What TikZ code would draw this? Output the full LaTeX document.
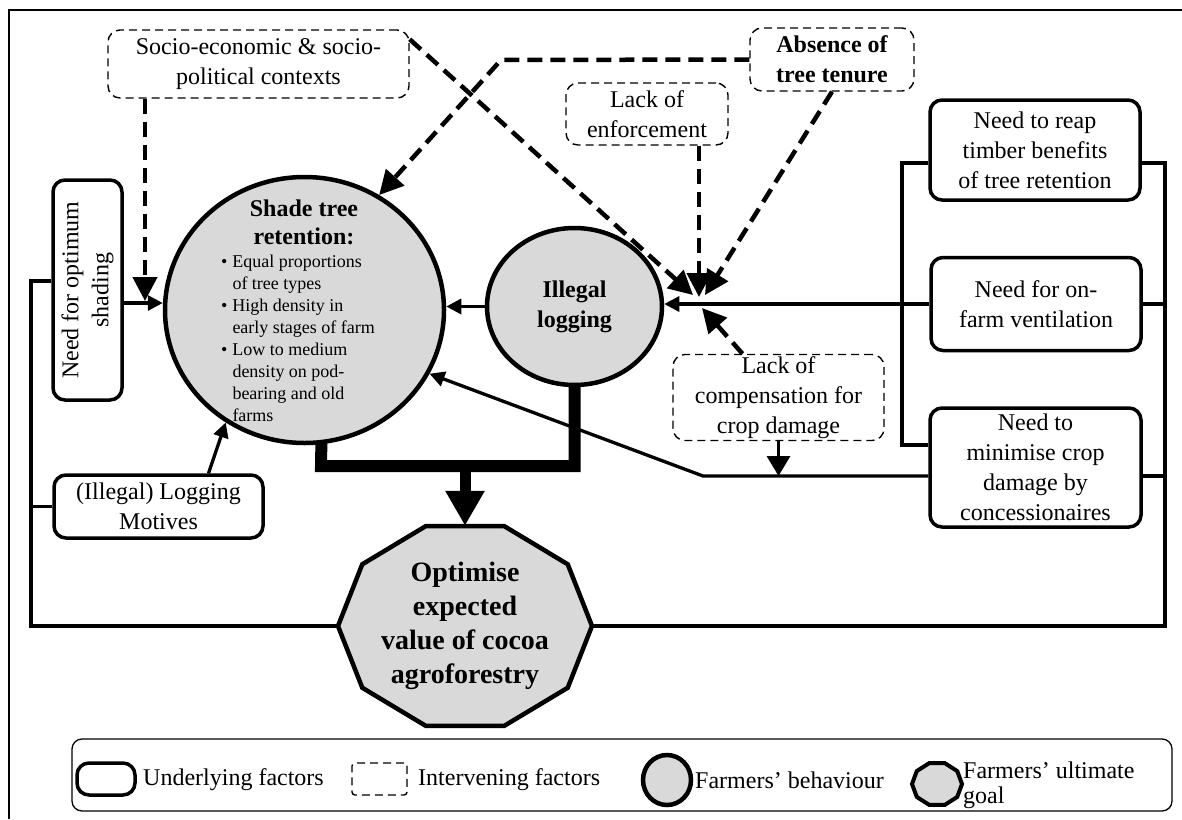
\documentclass[tikz,border=0pt]{standalone}
\usepackage{fontspec}
\setmainfont{Liberation Serif}
\usetikzlibrary{arrows.meta,shapes.geometric,calc}
\pgfdeclarelayer{bg}
\pgfsetlayers{bg,main}
\definecolor{shadegrey}{HTML}{D9D9D9}
\newcommand\bodyfont{\fontsize{24}{30}\selectfont}
\newcommand\listfont{\fontsize{18}{22}\selectfont}
\newcommand\goalfont{\fontsize{28}{34}\selectfont\bfseries}
\tikzset{
  under/.style={draw, rounded corners=12pt, line width=3.5pt, align=center, font=\bodyfont, inner sep=2pt},
  inter/.style={draw, rounded corners=12pt, line width=1.4pt, dash pattern=on 8pt off 5pt, align=center, font=\bodyfont, inner sep=2pt},
  behav/.style={draw, ellipse, fill=shadegrey, line width=4.5pt, inner sep=0pt},
  link/.style={line width=3.3pt},
  arrowlink/.style={link, -{Triangle[length=15pt,width=15pt]}},
  droplink/.style={link, -{Triangle[length=20pt,width=23pt]}},
  dlink/.style={line width=4.5pt, dash pattern=on 15pt off 8pt, -{Triangle[length=24pt,width=24pt]}},
  thickbar/.style={line width=12pt, line join=miter},
  bigarrow/.style={line width=11pt, -{Triangle[length=35pt,width=37pt]}},
  goalshape/.style={draw, fill=shadegrey, line width=4.5pt, line join=miter},
  legtext/.style={anchor=west, inner sep=0pt, font=\bodyfont}
}
\begin{document}
\begin{tikzpicture}[x=1pt, y=-1pt]
\useasboundingbox (0,0) rectangle (1182,819);

% outer frame
\draw[line width=1.8pt] (9,819) -- (9,10) -- (1182,10);

% intervening factors
\node[inter, minimum width=301pt, minimum height=68pt] (socio) at (258.5,64) {Socio-economic \& socio-\\political contexts};
\node[inter, font=\bodyfont\bfseries, minimum width=164pt, minimum height=63pt] (absence) at (832,59.5) {Absence of\\tree tenure};
\node[inter, minimum width=162pt, minimum height=62pt] (enforce) at (647,114) {Lack of\\enforcement};
\node[inter, minimum width=211pt, minimum height=85pt] (comp) at (778.5,397.5) {Lack of\\compensation for\\crop damage};

% underlying factors
\node[under, minimum width=210pt, minimum height=100pt] (reap) at (1035,150) {Need to reap\\timber benefits\\of tree retention};
\node[under, minimum width=210pt, minimum height=93pt] (onfarm) at (1036,304) {Need for on-\\farm ventilation};
\node[under, minimum width=211pt, minimum height=119pt] (minimise) at (1035.5,467.5) {Need to\\minimise crop\\damage by\\concessionaires};
\node[under, rotate=90, minimum width=220pt, minimum height=69pt] (needshade) at (87.5,290) {Need for optimum\\shading};
\node[under, minimum width=209pt, minimum height=63pt] (motives) at (158.5,506.5) {(Illegal) Logging\\Motives};

% farmers' behaviour
\node[behav, minimum width=279pt, minimum height=266pt] (shade) at (304.5,310) {};
\node[font=\fontsize{24}{28}\selectfont\bfseries, align=center, inner sep=0pt] (shadetitle) at (304,222) {Shade tree\\retention:};
\node[anchor=north west, inner sep=0pt, font=\listfont] (shadelist) at (221,252) {%
  \begin{tabular}{@{}l@{\hspace{5pt}}l@{}}
  \textbullet & Equal proportions\\
              & of tree types\\
  \textbullet & High density in\\
              & early stages of farm\\
  \textbullet & Low to medium\\
              & density on pod-\\
              & bearing and old\\
              & farms
  \end{tabular}};
\node[behav, minimum width=175pt, minimum height=157pt, font=\bodyfont\bfseries, align=center] (illegal) at (574.5,306.5) {Illegal\\logging};

% farmers' ultimate goal
\node[font=\goalfont, align=center, inner sep=0pt, minimum width=254pt, minimum height=200pt] (goal) at (465,626) {Optimise\\expected\\value of cocoa\\agroforestry};

% junction points
\coordinate (jshade) at (145,303);
\coordinate (lt) at (31,281);
\coordinate (lb) at (31,626);
\coordinate (rt) at (1165,163);
\coordinate (rb) at (1165,626);
\coordinate (lbr1) at (902,163);
\coordinate (lbr2) at (902,445);
\coordinate (tipS) at (693,295);
\coordinate (tipE) at (699,297);
\coordinate (tipA) at (705,295);
\coordinate (jbot) at (702,308);
\coordinate (bend) at (703,476);
\coordinate (kink) at (501,60);
\coordinate (bkL) at (321,466);
\coordinate (bkR) at (574.5,466);
\coordinate (bk) at (465,466);

\begin{pgfonlayer}{bg}
  % feedback loops to the goal
  \draw[link] (needshade.north |- lt) -- (lt) -- (lb) -- (goal.west);
  \draw[link] (motives.west) -- (motives.west -| lt);
  \draw[link] (reap.east |- rt) -- (rt) -- (rb) -- (goal.east);
  \draw[link] (onfarm.east) -- (onfarm.east -| rt);
  \draw[link] (minimise.east |- bend) -- (bend -| rt);
  \draw[link] (reap.west |- lbr1) -- (lbr1) -- (lbr2) -- (minimise.west |- lbr2);

  % solid influences
  \draw[arrowlink] (needshade.south |- jshade) -- (jshade -| shade.west);
  \draw[arrowlink] ($(motives.north)+(50,0)$) -- (shade.235);
  \draw[arrowlink] (illegal.west) -- (illegal.west -| shade.east);
  \draw[arrowlink] (onfarm.west) -- (onfarm.west -| illegal.east);
  \draw[arrowlink] (minimise.west |- bend) -- (bend) -- (shade.-27.5);
  \draw[droplink] (comp.south) -- (comp.south |- bend);

  % intervening influences
  \draw[dlink] (socio.south -| jshade) -- ($(jshade)+(0,-2)$);
  \draw[dlink] ($(socio.north east)+(0,10)$) -- (tipS);
  \draw[dlink] (enforce.south -| tipE) -- (tipE);
  \draw[dlink] (absence.south) -- (tipA);
  \draw[dlink] (absence.west) -- (kink) -- (shade.57);
  \draw[dlink] ($(comp.north)+(-36,0)$) -- (jbot);

  % behaviour feeding the goal
  \draw[thickbar] ($(shade.south)+(17,-8)$) -- (bkL) -- (bkR) -- ($(illegal.south)+(0,-8)$);
  \draw[bigarrow] (bk) -- (goal.north);

  % decagon of the goal
  \draw[goalshape] ($(goal.center)+(127,0)$)
    \foreach \k in {1,...,9}{ -- ($(goal.center)+({127*cos(36*\k)},{105*sin(36*\k)})$) } -- cycle;
\end{pgfonlayer}

% legend
\node[draw, rounded corners=10pt, line width=1.3pt, minimum width=1100pt, minimum height=72pt] (legend) at (622,775) {};
\node[under, minimum width=58pt, minimum height=32pt] (legU) at (106,779) {};
\node[legtext] (legUt) at (143,780) {Underlying factors};
\node[inter, rounded corners=3pt, minimum width=55pt, minimum height=32pt] (legI) at (379.5,779) {};
\node[legtext] (legIt) at (418,780) {Intervening factors};
\node[behav, minimum width=48pt, minimum height=50pt] (legB) at (667,780) {};
\node[legtext] (legBt) at (695,780) {Farmers’ behaviour};
\node[inner sep=0pt, minimum width=50pt, minimum height=42pt] (legG) at (937,784) {};
\draw[goalshape, line width=4pt] ($(legG.center)+(25,0)$)
  \foreach \k in {1,...,9}{ -- ($(legG.center)+({25*cos(36*\k)},{22*sin(36*\k)})$) } -- cycle;
\node[legtext, align=left, font=\fontsize{24}{25}\selectfont] (legGt) at (963,785) {Farmers’ ultimate\\goal};
\end{tikzpicture}
\end{document}
